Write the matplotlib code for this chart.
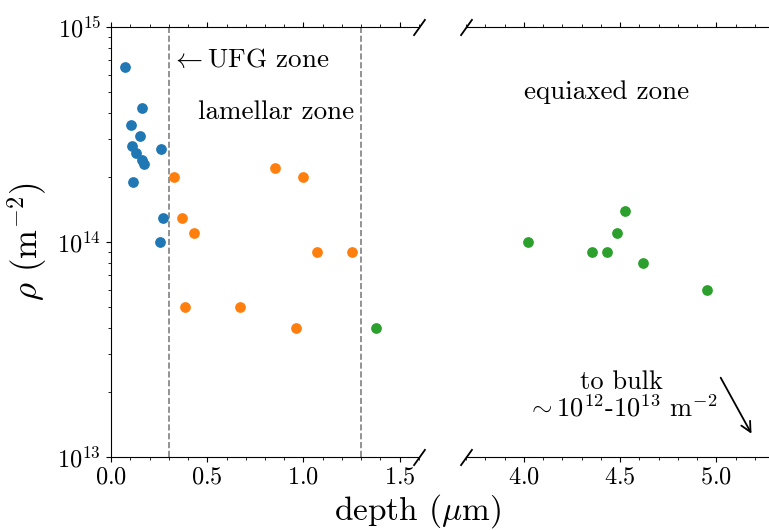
import matplotlib
matplotlib.use('Agg')
import matplotlib.pyplot as plt
from matplotlib.ticker import MultipleLocator

plt.rcParams['font.family'] = 'serif'
plt.rcParams['font.serif'] = ['cmr10']
plt.rcParams['mathtext.fontset'] = 'cm'
plt.rcParams['axes.formatter.use_mathtext'] = True

# dislocation density vs depth, per zone
ufg_depth = [0.073, 0.162, 0.102, 0.149, 0.110, 0.130, 0.161, 0.173, 0.261, 0.116, 0.269, 0.252]
ufg_rho = [6.5e14, 4.2e14, 3.5e14, 3.1e14, 2.8e14, 2.6e14, 2.4e14, 2.3e14, 2.7e14, 1.9e14, 1.3e14, 1.0e14]

lam_depth = [0.328, 0.850, 0.997, 0.370, 0.430, 1.071, 1.254, 0.387, 0.670, 0.959]
lam_rho = [2.0e14, 2.2e14, 2.0e14, 1.3e14, 1.1e14, 9e13, 9e13, 5e13, 5e13, 4e13]

eq_depth = [1.378, 4.02, 4.526, 4.484, 4.353, 4.434, 4.617, 4.953]
eq_rho = [4e13, 1.0e14, 1.4e14, 1.1e14, 9e13, 9e13, 8e13, 6e13]

zone_bounds = [0.3, 1.3]

fig = plt.figure(figsize=(7.69, 5.30), dpi=100)
ax1 = fig.add_axes([111/769, 1 - 457/530, 308/769, 430/530])
ax2 = fig.add_axes([466/769, 1 - 457/530, 308/769, 430/530], sharey=ax1)

for ax in (ax1, ax2):
    ax.scatter(ufg_depth, ufg_rho, s=45, color='tab:blue', zorder=3)
    ax.scatter(lam_depth, lam_rho, s=45, color='tab:orange', zorder=3)
    ax.scatter(eq_depth, eq_rho, s=45, color='tab:green', zorder=3)
    ax.set_yscale('log')
    ax.set_ylim(1e13, 1e15)
    ax.xaxis.set_major_locator(MultipleLocator(0.5))
    ax.xaxis.set_minor_locator(MultipleLocator(0.1))
    ax.tick_params(axis='x', which='both', top=True, labelsize=17.5)
    ax.tick_params(axis='y', labelsize=17.5)
    ax.spines['right'].set_visible(False)

ax1.set_xlim(0, 1.6)
ax2.set_xlim(3.7, 5.3)
ax2.spines['left'].set_visible(False)
ax2.tick_params(axis='y', which='both', left=False, labelleft=False)

for xb in zone_bounds:
    ax1.axvline(xb, color='gray', linestyle='--', linewidth=1.2)

# break marks
kw = dict(marker=[(-1, -1.4), (1, 1.4)], markersize=12, linestyle='none',
          color='k', mec='k', mew=1.3, clip_on=False)
ax1.plot([1, 1], [0, 1], transform=ax1.transAxes, **kw)
ax2.plot([0, 0], [0, 1], transform=ax2.transAxes, **kw)

ax1.text(0.31, 7e14, r'$\leftarrow$UFG zone', fontsize=19.5, ha='left', va='center')
ax1.text(0.855, 4e14, 'lamellar zone', fontsize=19.5, ha='center', va='center')
ax2.text(4.43, 5e14, 'equiaxed zone', fontsize=19.5, ha='center', va='center')
ax2.text(4.51, 1.93e13, 'to bulk\n' + r'$\sim 10^{12}$-$10^{13}$ m$^{-2}$',
         fontsize=19, ha='center', va='center', linespacing=1.05)
ax2.annotate('', xy=(5.19, 1.25e13), xytext=(5.016, 2.4e13),
             arrowprops=dict(arrowstyle='->', color='k', lw=1.3, mutation_scale=18))

ax1.set_ylabel(r'$\rho$ (m$^{-2}$)', fontsize=25, labelpad=6)
fig.text(0.543, 0.0, r'depth ($\mu$m)', fontsize=24, ha='center', va='bottom')

fig.savefig('out.png', dpi=100)
